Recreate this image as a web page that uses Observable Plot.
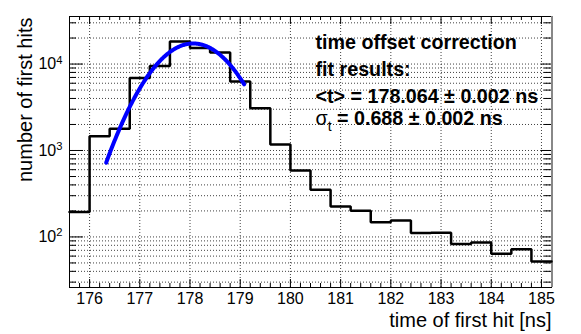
<!DOCTYPE html>
<html><head><meta charset="utf-8">
<script src="https://cdn.jsdelivr.net/npm/d3@7"></script>
<script src="https://cdn.jsdelivr.net/npm/@observablehq/plot@0.6"></script>
<style>
html,body{margin:0;padding:0;background:#fff;}
#chart svg{display:block;}
</style></head><body><div id="chart"></div>
<script>
// ---- data ----
const binEdges = [175.6,176.0,176.4,176.8,177.2,177.6,178.0,178.4,178.8,179.2,179.6,180.0,180.4,180.8,181.2,181.6,182.0,182.4,182.8,183.2,183.6,184.0,184.4,184.8,185.2];
const counts   = [194,1460,1780,6890,9480,18200,15300,13600,6300,3080,1170,588,351,225,201,148,155,111,112,83,86,64,72,52];
// Gaussian fit (parameters as reported on the chart)
const fitMean = 178.064;
const fitSigma = 0.688;
const fitAmplitude = 17300;
const fitRange = [176.33, 179.08];
// axes
const xDomain = [175.6, 185.2];
const yDomain = [26, 35500];
const xTicks = [176,177,178,179,180,181,182,183,184,185];
const yTicks = [100,1000,10000];
const annotations = ["time offset correction", "fit results:", "<t> = 178.064 \u00b1 0.002 ns", "\u03c3t = 0.688 \u00b1 0.002 ns"];
const xTitle = "time of first hit [ns]";
const yTitle = "number of first hits";

// ---- derived helpers ----
const W = 581, H = 334, mL = 69, mR = 30, mT = 16, mB = 47;
const plotH = H - mT - mB, plotW = W - mL - mR;
const steps = binEdges.map((e, i) => ({x: e, y: counts[Math.min(i, counts.length - 1)]}));
const fitPts = d3.range(0, 201).map(i => {
  const x = fitRange[0] + (fitRange[1] - fitRange[0]) * i / 200;
  return {x, y: fitAmplitude * Math.exp(-0.5 * ((x - fitMean) / fitSigma) ** 2)};
});
const xMinor = d3.range(0, 49).map(i => +(xDomain[0] + 0.2 * i).toFixed(1)).filter(v => !xTicks.includes(v));
const yGrid = [];
for (let p = 1; p <= 4; p++) for (let m = 1; m <= 9; m++) {
  const v = m * 10 ** p; if (v >= yDomain[0] && v <= yDomain[1]) yGrid.push(v);
}
const yMinor = yGrid.filter(v => !yTicks.includes(v));
const grid = {stroke: "#000", strokeOpacity: 0.75, strokeDasharray: "1,2", strokeWidth: 1};
const lineY = [48, 75, 102, 124];

const chart = Plot.plot({
  width: W, height: H, marginLeft: mL, marginRight: mR, marginTop: mT, marginBottom: mB,
  style: {fontFamily: "'Liberation Sans', Arial, Helvetica, sans-serif", fontSize: "16px", background: "#fff", color: "#000"},
  x: {domain: xDomain},
  y: {type: "log", domain: yDomain},
  marks: [
    Plot.ruleX(xTicks, grid),
    Plot.ruleY(yGrid, grid),
    // ticks (inside the frame)
    Plot.tickX(xTicks, {insetTop: plotH - 8, stroke: "#000"}),
    Plot.tickX(xMinor, {insetTop: plotH - 4, stroke: "#000"}),
    Plot.tickX(xTicks, {insetBottom: plotH - 8, stroke: "#000"}),
    Plot.tickX(xMinor, {insetBottom: plotH - 4, stroke: "#000"}),
    Plot.tickY(yTicks, {insetRight: plotW - 14, stroke: "#000"}),
    Plot.tickY(yMinor, {insetRight: plotW - 7, stroke: "#000"}),
    Plot.tickY(yTicks, {insetLeft: plotW - 10, stroke: "#000"}),
    Plot.tickY(yMinor, {insetLeft: plotW - 7, stroke: "#000"}),
    Plot.frame({stroke: "#000", strokeWidth: 1}),
    Plot.ruleX([xDomain[1]], {stroke: "#888", strokeWidth: 2, dx: 0.5}),
    // histogram
    Plot.line(steps, {x: "x", y: "y", curve: "step-after", stroke: "#000", strokeWidth: 2.5, strokeLinejoin: "miter"}),
    // fit
    Plot.line(fitPts, {x: "x", y: "y", stroke: "#0000ff", strokeWidth: 4}),
    Plot.axisX({ticks: xTicks, tickSize: 0, tickPadding: 5, label: null, fontSize: 16}),
    Plot.axisY({ticks: yTicks, tickSize: 0, tickPadding: 7, label: null, fontSize: 16, tickFormat: d => "10^" + Math.round(Math.log10(d))}),
    ...annotations.map((t, i) => Plot.text([t], {frameAnchor: "top-left", dx: 246, dy: lineY[i] - mT, textAnchor: "start", lineAnchor: "bottom", fontSize: 19.7, fontWeight: "bold", fill: "#000"})),
    Plot.text([xTitle], {frameAnchor: "bottom-right", dy: 39.5, textAnchor: "end", lineAnchor: "bottom", fontSize: 20, fill: "#000"}),
    Plot.text([yTitle], {frameAnchor: "top-left", dx: -38, dy: 1, rotate: -90, textAnchor: "end", lineAnchor: "bottom", fontSize: 20, fill: "#000"})
  ]
});

// superscripts for the log labels
d3.select(chart).selectAll('g[aria-label="y-axis tick label"] text').each(function () {
  const s = this.textContent; const m = s.match(/^10\^(\d+)$/);
  if (!m) return;
  const t = d3.select(this); t.text(null);
  t.append("tspan").text("10");
  t.append("tspan").attr("dy", "-0.5em").attr("font-size", "0.7em").text(m[1]);
});
// subscript for sigma_t
d3.select(chart).selectAll('text').each(function () {
  const s = this.textContent;
  if (s.startsWith("\u03c3t")) {
    const t = d3.select(this); t.text(null);
    t.append("tspan").attr("font-weight", "normal").text("\u03c3");
    t.append("tspan").attr("dy", "6").attr("font-size", "14").attr("font-weight", "normal").text("t");
    t.append("tspan").attr("dy", "-6").text(" = 0.688 \u00b1 0.002 ns");
  }
});
document.getElementById("chart").appendChild(chart);
</script>
</body></html>
